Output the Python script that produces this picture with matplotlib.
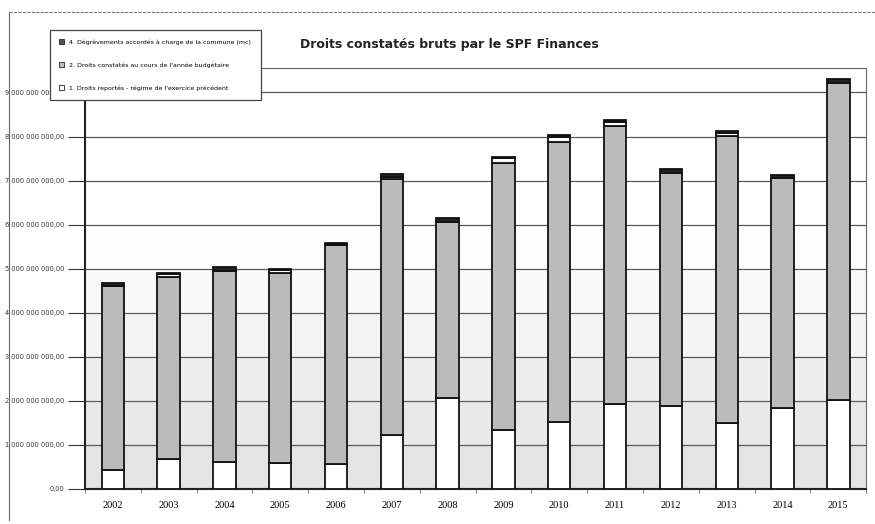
import matplotlib
matplotlib.use("Agg")
import matplotlib.pyplot as plt
import numpy as np
from matplotlib.ticker import FuncFormatter
from matplotlib.patches import Patch
from matplotlib.lines import Line2D

# montants en milliards d'euros
annees = ['2002', '2003', '2004', '2005', '2006', '2007', '2008',
          '2009', '2010', '2011', '2012', '2013', '2014', '2015']
reportes = [0.42, 0.67, 0.62, 0.58, 0.56, 1.22, 2.06, 1.35, 1.52, 1.93, 1.89, 1.49, 1.83, 2.02]
constates = [4.18, 4.14, 4.33, 4.32, 4.97, 5.81, 4.00, 6.06, 6.36, 6.32, 5.29, 6.52, 5.22, 7.19]
autres = [0.0, 0.06, 0.0, 0.07, 0.0, 0.05, 0.0, 0.10, 0.12, 0.09, 0.0, 0.08, 0.0, 0.0]
degrevements = [0.07, 0.03, 0.08, 0.03, 0.05, 0.06, 0.09, 0.03, 0.03, 0.03, 0.08, 0.03, 0.07, 0.09]

legende = ['4. Dégrèvements accordés à charge de la commune (mc)',
           "2. Droits constatés au cours de l'année budgétaire",
           "1. Droits reportés - régime de l'exercice précédent"]

fig = plt.figure(figsize=(8.75, 5.24), dpi=100)
ax = fig.add_axes([0.097, 0.0668, 0.893, 0.803])

x = np.arange(len(annees))
w = 0.4
s1 = np.array(reportes) * 1e9
s2 = np.array(constates) * 1e9
s3 = np.array(autres) * 1e9
s4 = np.array(degrevements) * 1e9

# fond en bandes dégradées
ymax = 9.55e9
for i in range(10):
    g = min(1.0, 0.895 + i * 0.02)
    ax.axhspan(i * 1e9, (i + 1) * 1e9, color=(g, g, g), zorder=0, lw=0)
for i in range(1, 10):
    ax.axhline(i * 1e9, color='#5a5a5a', lw=0.9, zorder=1)

kw = dict(width=w, edgecolor='#111111', linewidth=1.3, zorder=3)
ax.bar(x, s1, color='white', **kw)
ax.bar(x, s2, bottom=s1, color='#bbbbbb', **kw)
ax.bar(x, s3, bottom=s1 + s2, color='white', **kw)
ax.bar(x, s4, bottom=s1 + s2 + s3, color='#222222', **kw)


def euros(v, p):
    if v == 0:
        return '0,00'
    return '{:,.0f}'.format(v).replace(',', ' ') + ',00'


ax.set_xlim(-0.5, len(annees) - 0.5)
ax.set_ylim(0, ymax)
ax.set_yticks(np.arange(0, 10) * 1e9)
ax.yaxis.set_major_formatter(FuncFormatter(euros))
ax.tick_params(axis='y', labelsize=4.8, length=12, width=0.8, colors='#333333', pad=3)

ax.set_xticks(x)
ax.set_xticklabels(annees, fontsize=7.5, family='Liberation Serif')
ax.set_xticks(np.arange(-0.5, len(annees), 1), minor=True)
ax.tick_params(axis='x', which='major', length=0, pad=9)
ax.tick_params(axis='x', which='minor', length=3, width=0.6, color='#666666')

for s in ['top', 'right']:
    ax.spines[s].set_color('#666666')
    ax.spines[s].set_linewidth(0.8)
for s in ['left', 'bottom']:
    ax.spines[s].set_color('#222222')
    ax.spines[s].set_linewidth(1.5)

fig.text(0.343, 0.915, 'Droits constatés bruts par le SPF Finances',
         fontsize=9, fontweight='bold', color='#222222', ha='left', va='center')

handles = [Patch(facecolor='#555555', edgecolor='#222222', lw=0.6),
           Patch(facecolor='#bbbbbb', edgecolor='#222222', lw=0.6),
           Patch(facecolor='white', edgecolor='#222222', lw=0.6)]
leg = fig.legend(handles, legende, loc='upper left', bbox_to_anchor=(0.057, 0.943),
                 fontsize=4.5, frameon=True, fancybox=False, framealpha=1,
                 labelspacing=2.8, handlelength=0.8, handleheight=0.8,
                 borderpad=1.5, handletextpad=0.8, borderaxespad=0)
leg.get_frame().set_edgecolor('#444444')
leg.get_frame().set_linewidth(0.9)
leg.set_zorder(10)

# cadre extérieur
fig.add_artist(Line2D([0.010, 0.010], [0.008, 0.977], color='#666666', lw=0.8))
fig.add_artist(Line2D([0.010, 1.0], [0.977, 0.977], color='#777777', lw=0.8, ls=(0, (3, 1))))

fig.savefig('out.png', dpi=100)
